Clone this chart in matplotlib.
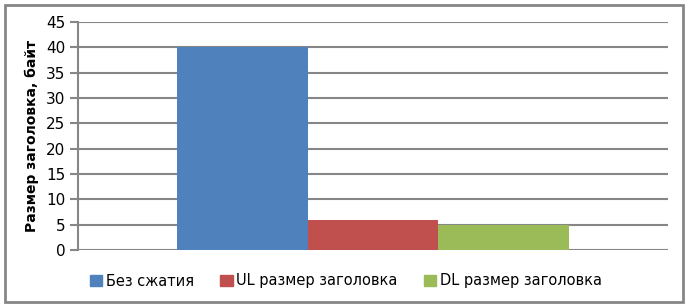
import matplotlib.pyplot as plt
from matplotlib.patches import Rectangle, Patch

# данные
series = ["Без сжатия", "UL размер заголовка", "DL размер заголовка"]
values = [40, 6, 5]
colors = ["#4f81bd", "#c0504d", "#9bbb59"]
y_ticks = [0, 5, 10, 15, 20, 25, 30, 35, 40, 45]

W, H = 687, 306
fig = plt.figure(figsize=(W / 100, H / 100), dpi=100)
ax = fig.add_axes([78 / W, 1 - 250 / H, (668 - 78) / W, (250 - 22) / H])

bw = 0.222
for i, (name, v, c) in enumerate(zip(series, values, colors)):
    ax.bar(0 + (i - 1) * bw, v, width=bw, color=c, label=name, zorder=3)

ax.set_xlim(-0.5, 0.5)
ax.set_ylim(0, 45)
ax.set_yticks(y_ticks)
ax.set_xticks([])
ax.grid(axis="y", color="#868686", linewidth=1.5, zorder=0)
for s in ["top", "right", "bottom"]:
    ax.spines[s].set_visible(False)
ax.spines["left"].set_color("#868686")
ax.spines["left"].set_linewidth(1.5)
ax.tick_params(axis="y", length=6, width=1.5, color="#868686", labelsize=11, pad=3)
ax.set_ylabel("Размер заголовка, байт", fontsize=10, fontweight="bold", labelpad=5)

handles = [Patch(color=c) for c in colors]
fig.legend(handles, series, loc="center", bbox_to_anchor=(346 / W, 1 - 281 / H),
           ncol=3, frameon=False, fontsize=10.5, handlelength=0.85, handleheight=0.85,
           handletextpad=0.25, columnspacing=1.8)

# рамка
fig.patches.append(Rectangle((5 / W, 4 / H), (683 - 5) / W, (301 - 4) / H,
                             transform=fig.transFigure, fill=False,
                             edgecolor="#868686", linewidth=2))

fig.savefig("out.png", dpi=100)
